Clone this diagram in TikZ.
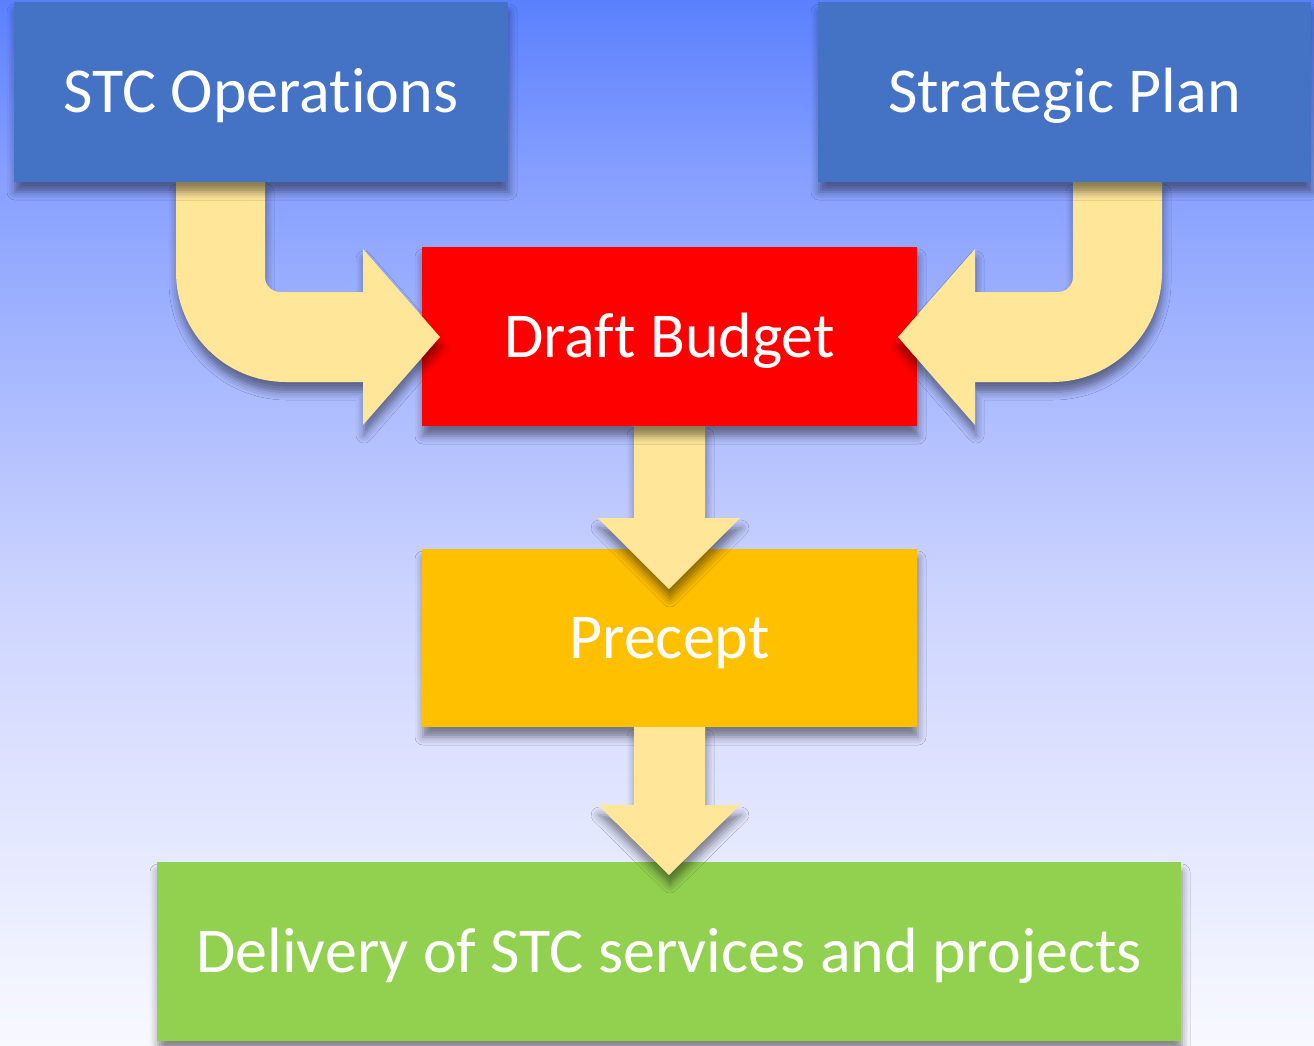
\documentclass[tikz,border=0pt]{standalone}
\usepackage{fontspec}
\setmainfont{Carlito}[Ligatures=NoCommon]
\usetikzlibrary{shadows.blur}
\definecolor{bgtop}{HTML}{5A80FF}
\definecolor{bgup}{HTML}{87A0FF}
\definecolor{bgmid}{HTML}{CDD4FF}
\definecolor{bgbot}{HTML}{F8F9FF}
\definecolor{boxblue}{HTML}{4472C4}
\definecolor{boxred}{HTML}{FF0000}
\definecolor{boxamber}{HTML}{FFC000}
\definecolor{boxgreen}{HTML}{92D050}
\definecolor{arrowfill}{HTML}{FFE699}
\pgfdeclareverticalshading{bgshade}{100bp}{color(0bp)=(bgbot); color(25bp)=(bgbot); color(46.5bp)=(bgmid); color(66.5bp)=(bgup); color(75bp)=(bgtop); color(100bp)=(bgtop)}
\tikzset{
  sh/.style={blur shadow={shadow xshift=1pt, shadow yshift=-10pt, shadow blur radius=8pt, shadow opacity=45}},
  box/.style={rectangle, inner sep=0pt, text=white, font=\fontsize{64}{76}\selectfont, text height=44pt, text depth=2.8pt, sh},
  blockarrow/.style={fill=arrowfill, draw=none, sh},
}
\begin{document}
\begin{tikzpicture}[x=1pt,y=-1pt]
\useasboundingbox (0,0) rectangle (1314,1045);
\fill[shading=bgshade] (0,0) rectangle (1314,1045);

% lower boxes
\node[box, fill=boxgreen, minimum width=1024pt, minimum height=179pt] (deliv) at (669,951.5) {Delivery of STC services and projects};
\node[box, fill=boxamber, minimum width=495pt, minimum height=178pt] (precept) at (669.5,638) {Precept};

% arrow precept -> delivery
\fill[blockarrow] (634,727) -- (634,805) -- (598,805) -- (669,875) -- (740,805) -- (705,805) -- (705,727) -- cycle;
% arrow draft -> precept
\fill[blockarrow] (634,426) -- (634,518) -- (598,518) -- (669,589) -- (740,518) -- (705,518) -- (705,426) -- cycle;

\node[box, fill=boxred, minimum width=495pt, minimum height=179pt] (draft) at (669.5,336.5) {Draft Budget};

% bent arrow left
\fill[blockarrow] (176,182) -- (176,272) .. controls (176,332.75) and (225.25,382) .. (286,382)
  -- (363,382) -- (363,425) -- (440,337) -- (363,249) -- (363,292) -- (280,292)
  .. controls (271.7,292) and (265,285.3) .. (265,277) -- (265,182) -- cycle;
% bent arrow right
\fill[blockarrow] (1162,182) -- (1162,272) .. controls (1162,332.75) and (1112.75,382) .. (1052,382)
  -- (975,382) -- (975,425) -- (898,337) -- (975,249) -- (975,292) -- (1058,292)
  .. controls (1066.3,292) and (1073,285.3) .. (1073,277) -- (1073,182) -- cycle;

\node[box, fill=boxblue, minimum width=494pt, minimum height=180pt] (ops) at (261,92) {STC Operations};
\node[box, fill=boxblue, minimum width=493pt, minimum height=180pt] (plan) at (1064.5,92) {Strategic Plan};
\end{tikzpicture}
\end{document}
